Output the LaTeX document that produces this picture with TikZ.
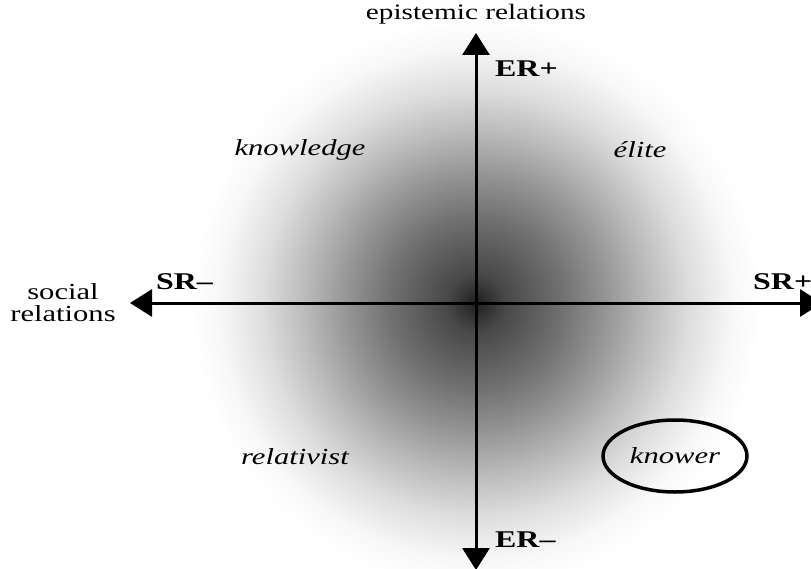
\documentclass[tikz,border=0pt]{standalone}
\usepackage{fontspec}
\setmainfont{Liberation Serif}[FakeStretch=1.33]
\usetikzlibrary{arrows.meta,shapes.geometric}
\pgfdeclareradialshading{blob}{\pgfpoint{0bp}{0bp}}{color(0bp)=(black!88); color(2.5bp)=(black!72); color(7.5bp)=(black!56); color(11.25bp)=(black!42); color(15bp)=(black!27); color(18.75bp)=(black!13); color(22.5bp)=(black!3); color(25bp)=(white); color(50bp)=(white)}
\tikzset{
  axis/.style={line width=3bp, {Triangle[length=22bp,width=27bp]}-{Triangle[length=22bp,width=27bp]}},
  lab/.style={inner sep=0pt, font=\fontsize{22bp}{24bp}\selectfont},
  quad/.style={lab, font=\fontsize{23bp}{24bp}\selectfont\itshape},
  pole/.style={lab, font=\fontsize{24bp}{26bp}\selectfont\bfseries, anchor=west},
}
\begin{document}
\begin{tikzpicture}[x=1bp,y=-1bp]
\useasboundingbox (0,0) rectangle (811,569);
\clip (0,0) rectangle (811,569);
\fill[white] (0,0) rectangle (811,569);
\shade[shading=blob] (476,303) circle (285);
\coordinate (N) at (476,33);
\coordinate (S) at (476,570);
\coordinate (W) at (130,303);
\coordinate (E) at (822,303);
\draw[axis] (S) -- (N);
\draw[axis] (W) -- (E);
\node[lab] (er) at (476,14) {epistemic relations};
\node[lab, align=center, font=\fontsize{23bp}{22bp}\selectfont] (sr) at (63,303) {social\\relations};
\node[pole] (erp) at (495,69) {ER+};
\node[pole] (erm) at (495,540) {ER–};
\node[pole] (srm) at (156,282) {SR–};
\node[pole] (srp) at (753,282) {SR+};
\node[quad] (kn) at (300,150) {knowledge};
\node[quad] (el) at (640,150) {élite};
\node[quad] (re) at (295,457) {relativist};
\node[quad, draw, line width=3.5bp, ellipse, minimum width=144bp, minimum height=72bp] (kw) at (675,456) {knower};
\end{tikzpicture}
\end{document}
